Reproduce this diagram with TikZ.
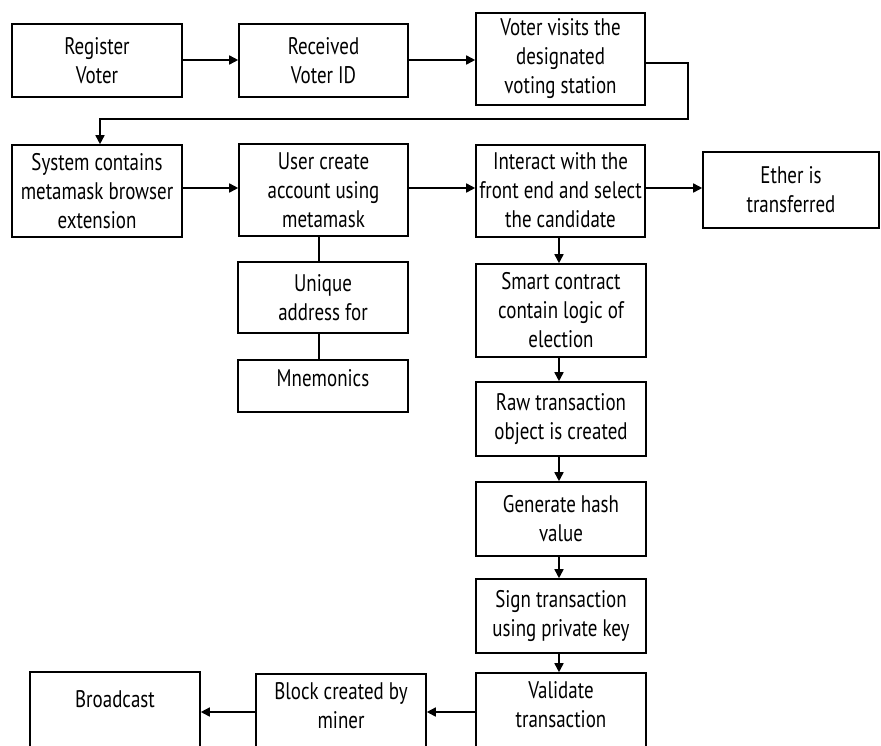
\documentclass[tikz,border=0pt]{standalone}
\usepackage{fontspec}
\setmainfont[FakeStretch=0.79]{PT Sans}
\usetikzlibrary{arrows.meta}
\begin{document}
\begin{tikzpicture}[x=1pt,y=-1pt,
  bx/.style={draw, line width=1.6pt, rectangle, align=center, inner sep=0pt,
    font=\fontsize{24}{29}\selectfont},
  arr/.style={line width=1.6pt, -{Triangle[length=9pt,width=9pt]}},
  ln/.style={line width=1.6pt}]
\clip (0,0) rectangle (881,745);
\fill[white] (0,0) rectangle (881,745);
% row 1
\node[bx, minimum width=170pt, minimum height=73pt] (reg) at (97,60.5) {Register\\Voter};
\node[bx, minimum width=169pt, minimum height=73pt] (rec) at (323.5,60.5) {Received\\Voter ID};
\node[bx, minimum width=169pt, minimum height=92pt] (vis) at (560.5,59) {Voter visits the\\designated\\voting station};
% row 2
\node[bx, minimum width=170pt, minimum height=92pt] (sys) at (97,191) {System contains\\metamask browser\\extension};
\node[bx, minimum width=169pt, minimum height=92pt] (usr) at (323.5,190) {User create\\account using\\metamask};
\node[bx, minimum width=169pt, minimum height=92pt, text depth=3pt] (int) at (560.5,191) {Interact with the\\front end and select\\the candidate};
\node[bx, minimum width=176pt, minimum height=76pt] (eth) at (791,190) {Ether is\\transferred};
% column under usr
\node[bx, minimum width=170pt, minimum height=71pt] (uni) at (323,297.5) {Unique\\address for};
\node[bx, minimum width=170pt, minimum height=52pt, text depth=16pt] (mne) at (323,386) {Mnemonics};
% main column
\node[bx, minimum width=170pt, minimum height=93pt] (sma) at (561,310.5) {Smart contract\\contain logic of\\election};
\node[bx, minimum width=170pt, minimum height=74pt] (raw) at (561,419) {Raw transaction\\object is created};
\node[bx, minimum width=170pt, minimum height=74pt] (gen) at (561,519) {Generate hash\\value};
\node[bx, minimum width=170pt, minimum height=74pt] (sig) at (561,616) {Sign transaction\\using private key};
% bottom row
\node[bx, minimum width=170pt, minimum height=80pt, text depth=18pt] (val) at (561,713) {Validate\\transaction};
\node[bx, minimum width=170pt, minimum height=80pt, text depth=18pt] (blk) at (341,714) {Block created by\\miner};
\node[bx, minimum width=170pt, minimum height=80pt, text depth=26pt] (bro) at (115,712) {Broadcast};
% connectors
\draw[arr] (reg.east |- 0,60) -- (rec.west |- 0,60);
\draw[arr] (rec.east |- 0,60) -- (vis.west |- 0,60);
\coordinate (c1) at (688,63);
\coordinate (c2) at (688,119);
\coordinate (c3) at (100,119);
\draw[arr] (vis.east |- c1) -- (c1) -- (c2) -- (c3) -- (c3 |- sys.north);
\draw[arr] (sys.east |- 0,188) -- (usr.west |- 0,188);
\draw[arr] (usr.east |- 0,188) -- (int.west |- 0,188);
\draw[arr] (int.east |- 0,188) -- (eth.west |- 0,188);
\draw[ln] (usr.south -| 319,0) -- (uni.north -| 319,0);
\draw[ln] (uni.south -| 319,0) -- (mne.north -| 319,0);
\draw[arr] (int.south -| 559,0) -- (sma.north -| 559,0);
\draw[arr] (sma.south -| 559,0) -- (raw.north -| 559,0);
\draw[arr] (raw.south -| 559,0) -- (gen.north -| 559,0);
\draw[arr] (gen.south -| 559,0) -- (sig.north -| 559,0);
\draw[arr] (sig.south -| 559,0) -- (val.north -| 559,0);
\draw[arr] (val.west |- 0,712) -- (blk.east |- 0,712);
\draw[arr] (blk.west |- 0,712) -- (bro.east |- 0,712);
\end{tikzpicture}
\end{document}
